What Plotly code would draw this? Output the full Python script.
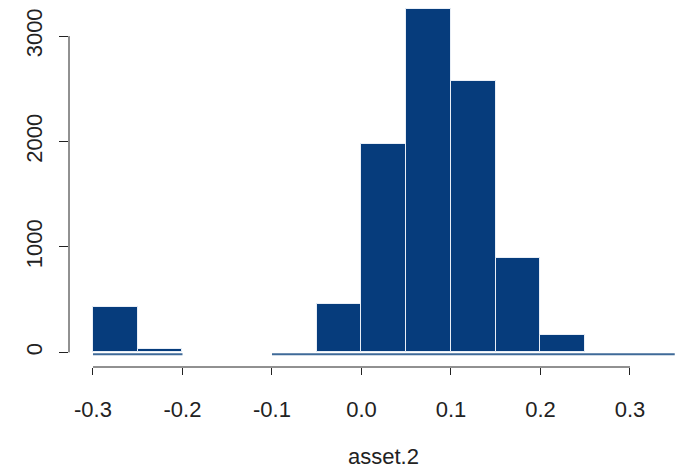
import plotly.graph_objects as go

# Histogram of asset.2: bin edges every 0.05 from -0.3 to 0.35
bin_left = [-0.30, -0.25, -0.20, -0.15, -0.10, -0.05, 0.00, 0.05, 0.10, 0.15, 0.20, 0.25, 0.30]
counts = [433, 31, 0, 0, 0, 458, 1980, 3257, 2577, 895, 164, 0, 0]
bin_width = 0.05

# baseline segments drawn just under the bars
base_x = [-0.30, -0.20, None, -0.10, 0.35]
base_y = [-19, -19, None, -19, -19]

x_ticks = [-0.3, -0.2, -0.1, 0.0, 0.1, 0.2, 0.3]
x_labels = ["-0.3", "-0.2", "-0.1", "0.0", "0.1", "0.2", "0.3"]
y_ticks = [0, 1000, 2000, 3000]
y_labels = ["0", "1000", "2000", "3000"]

x_range = [-0.3268, 0.357]
y_range = [-139, 3343]

centers = [b + bin_width / 2 for b in bin_left]
# empty bins are left undrawn
heights = [c if c > 0 else None for c in counts]

fig = go.Figure()
fig.add_trace(go.Bar(
    x=centers, y=heights, width=bin_width,
    marker=dict(color="#063c7c", line=dict(color="#e8eef6", width=1)),
    customdata=counts, hovertemplate="%{x}: %{customdata}<extra></extra>",
))
fig.add_trace(go.Scatter(
    x=base_x, y=base_y, mode="lines",
    line=dict(color="#3f6a98", width=2),
    hoverinfo="skip",
))

ink = "#222222"
font = dict(family="Liberation Sans, Arial, sans-serif", size=22, color=ink)

fig.update_layout(
    width=681, height=469,
    margin=dict(l=69, r=0, t=0, b=102),
    paper_bgcolor="white", plot_bgcolor="white",
    showlegend=False, bargap=0,
    font=font,
    xaxis=dict(
        range=x_range, tickvals=x_ticks, ticktext=x_labels,
        ticks="outside", ticklen=7, tickcolor=ink, tickwidth=1,
        showgrid=False, zeroline=False, showline=False,
        tickfont=dict(size=22), ticklabelstandoff=16,
    ),
    yaxis=dict(
        range=y_range, tickvals=y_ticks, ticktext=y_labels,
        ticks="outside", ticklen=9, tickcolor=ink, tickwidth=1,
        showgrid=False, zeroline=False, showline=False,
        tickangle=-90, tickfont=dict(size=22), ticklabelstandoff=8,
    ),
    shapes=[
        dict(type="line", xref="x", yref="paper", x0=x_ticks[0], x1=x_ticks[-1], y0=0, y1=0,
             line=dict(color=ink, width=1)),
        dict(type="line", xref="paper", yref="y", x0=0, x1=0, y0=y_ticks[0], y1=y_ticks[-1],
             line=dict(color=ink, width=1)),
    ],
    annotations=[
        dict(text="asset.2", xref="x", yref="paper", x=0.025, y=0,
             xanchor="center", yanchor="middle", yshift=-89, showarrow=False,
             font=dict(size=22, color=ink)),
    ],
)

fig.write_html("out.html")
